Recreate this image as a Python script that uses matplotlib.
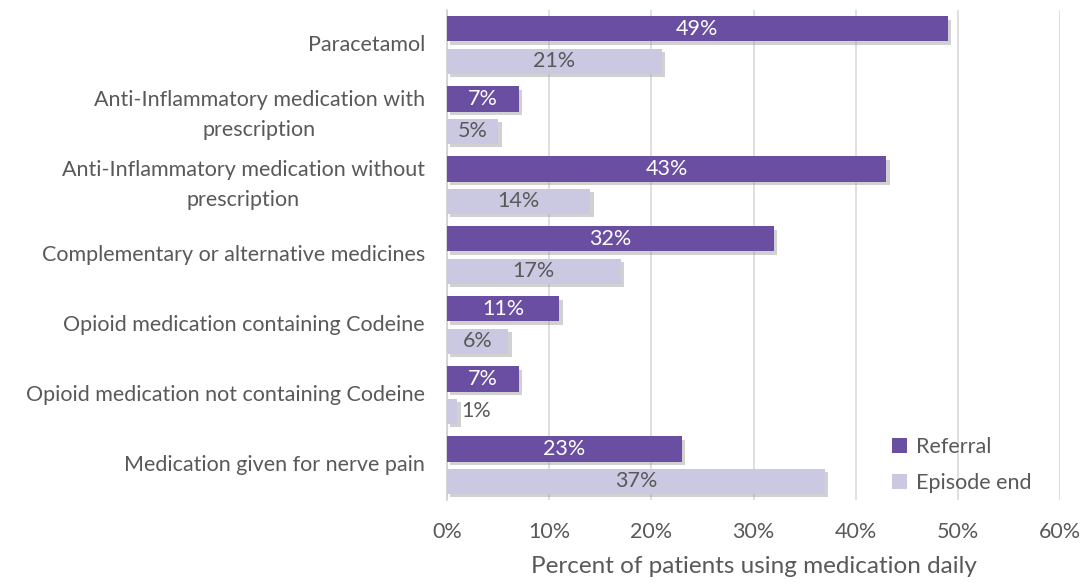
import matplotlib.pyplot as plt
import matplotlib.patheffects as pe
import numpy as np

plt.rcParams['font.family'] = ['Lato', 'DejaVu Sans']

categories = ["Paracetamol",
              "Anti-Inflammatory medication with\nprescription",
              "Anti-Inflammatory medication without\nprescription",
              "Complementary or alternative medicines",
              "Opioid medication containing Codeine",
              "Opioid medication not containing Codeine",
              "Medication given for nerve pain"]
referral = [49, 7, 43, 32, 11, 7, 23]
episode_end = [21, 5, 14, 17, 6, 1, 37]
xticks = [0, 10, 20, 30, 40, 50, 60]

dark = '#6a4ea1'
light = '#cbc8e1'
grey = '#595959'

fig = plt.figure(figsize=(10.85, 5.83), dpi=100)
ax = fig.add_axes([447 / 1085, 1 - 500 / 583, 613 / 1085, 490 / 583])

y = np.arange(len(categories))
h = 0.36
off = 0.23
shadow = [pe.SimplePatchShadow(offset=(2.5, -2.5), shadow_rgbFace='#999999', alpha=0.45), pe.Normal()]

b1 = ax.barh(y - off, referral, height=h, color=dark, label='Referral', zorder=3)
b2 = ax.barh(y + off, episode_end, height=h, color=light, label='Episode end', zorder=3)
for b in list(b1) + list(b2):
    b.set_path_effects(shadow)

fs = 15.5
for yi, v in zip(y, referral):
    ax.text(v / 2, yi - off, f"{v}%", ha='center', va='center', color='white', fontsize=fs, zorder=5)
for yi, v in zip(y, episode_end):
    if v < 3:
        ax.text(v + 0.4, yi + off, f"{v}%", ha='left', va='center', color=grey, fontsize=fs, zorder=5)
    else:
        ax.text(v / 2, yi + off, f"{v}%", ha='center', va='center', color=grey, fontsize=fs, zorder=5)

ax.set_xlim(0, 60)
ax.set_ylim(len(categories) - 0.5, -0.5)
ax.set_xticks(xticks)
ax.set_xticklabels([f"{t}%" for t in xticks], color=grey, fontsize=fs)
ax.set_yticks(y)
ax.set_yticklabels(categories, color=grey, fontsize=fs, ha='right', va='center',
                   multialignment='center', linespacing=1.65)
ax.tick_params(axis='y', length=0, pad=16)
ax.tick_params(axis='x', length=0, pad=16)
ax.grid(axis='x', color='#d9d9d9', linewidth=1.2, zorder=0)
for s in ['top', 'right', 'bottom']:
    ax.spines[s].set_visible(False)
ax.spines['left'].set_color('#d0d0d0')
ax.spines['left'].set_linewidth(1.2)

ax.set_xlabel('Percent of patients using medication daily', color=grey, fontsize=17.5, labelpad=10)

leg = ax.legend(loc='lower right', frameon=False, fontsize=fs, labelcolor=grey,
                handlelength=0.7, handleheight=0.7, handletextpad=0.4, labelspacing=0.75,
                bbox_to_anchor=(0.985, -0.025))
for hnd in leg.legend_handles:
    hnd.set_path_effects([])

fig.savefig('out.png', dpi=100)
